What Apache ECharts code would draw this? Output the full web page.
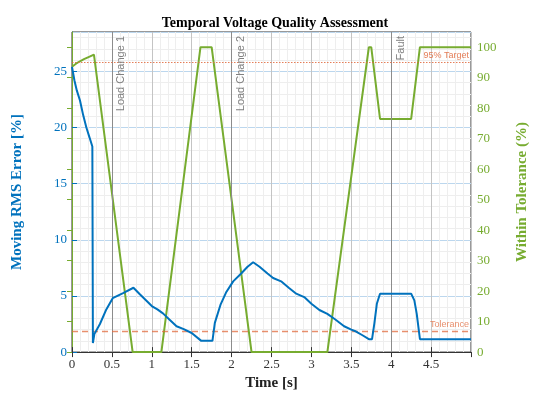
<!DOCTYPE html>
<html>
<head>
<meta charset="utf-8">
<script src="https://cdn.jsdelivr.net/npm/echarts@6/dist/echarts.min.js"></script>
<style>html,body{margin:0;padding:0;background:#fff}#c{width:550px;height:396px}</style>
</head>
<body>
<div id="c"></div>
<script>
// ---- data ----
const rmsTime = [0, 0.03, 0.06, 0.1, 0.14, 0.18, 0.22, 0.255, 0.262, 0.28, 0.35, 0.43, 0.51, 0.64, 0.77, 0.85, 0.93, 1.0, 1.07, 1.14, 1.22, 1.31, 1.4, 1.5, 1.62, 1.76, 1.79, 1.86, 1.93, 2.02, 2.12, 2.2, 2.27, 2.35, 2.45, 2.52, 2.62, 2.72, 2.81, 2.91, 3.0, 3.1, 3.2, 3.3, 3.41, 3.5, 3.56, 3.64, 3.72, 3.76, 3.79, 3.82, 3.86, 4.25, 4.29, 4.32, 4.36, 5.0];
const rmsValue = [25.4, 24.2, 23.3, 22.4, 21.1, 20.0, 19.1, 18.3, 0.8, 1.6, 2.5, 3.8, 4.8, 5.25, 5.73, 5.15, 4.6, 4.1, 3.8, 3.45, 2.9, 2.3, 2.05, 1.7, 1.0, 1.0, 2.6, 4.2, 5.3, 6.3, 7.0, 7.6, 8.0, 7.6, 7.0, 6.6, 6.3, 5.7, 5.2, 4.9, 4.3, 3.75, 3.4, 2.9, 2.3, 2.0, 1.83, 1.5, 1.15, 1.15, 2.6, 4.3, 5.2, 5.2, 4.6, 3.4, 1.15, 1.15];
const tolTime = [0, 0.05, 0.1, 0.15, 0.2, 0.275, 0.76, 1.12, 1.61, 1.75, 2.25, 3.2, 3.72, 3.75, 3.86, 4.25, 4.36, 5.0];
const tolValue = [93.6, 94.6, 95.4, 96.1, 96.7, 97.6, 0, 0, 100, 100, 0, 0, 100, 100, 76.5, 76.5, 100, 100];
const eventTimes = [0.5, 2.0, 4.0];
const eventLabels = ['Load Change 1', 'Load Change 2', 'Fault'];
const rmsTolerance = 1.9;
const targetPct = 95;
const xTicks = [0, 0.5, 1, 1.5, 2, 2.5, 3, 3.5, 4, 4.5];

const BLUE = '#0072BD', GREEN = '#77AC30', ORANGE = '#E0693C';
const SERIF = '"Liberation Serif", "Times New Roman", serif';
const SANS = '"Liberation Sans", Arial, sans-serif';

const rmsData = rmsTime.map((t, i) => [t, rmsValue[i]]);
const tolData = tolTime.map((t, i) => [t, tolValue[i]]);

const chart = echarts.init(document.getElementById('c'));
chart.setOption({
  animation: false,
  title: {
    text: 'Temporal Voltage Quality Assessment',
    left: 'center', top: 11,
    textStyle: { fontFamily: SERIF, fontWeight: 'bold', fontSize: 14, color: '#000' }
  },
  grid: { left: 72, right: 79, top: 32, bottom: 43, show: true, borderColor: '#333', borderWidth: 1 },
  xAxis: [{
    type: 'value', min: 0, max: 5, interval: 0.5,
    name: 'Time [s]', nameLocation: 'middle', nameGap: 21,
    nameTextStyle: { fontFamily: SERIF, fontWeight: 'bold', fontSize: 15, color: '#222' },
    axisLine: { show: true, lineStyle: { color: '#333', width: 1 } },
    axisTick: { show: true, inside: true, length: 5, lineStyle: { color: '#333' } },
    axisLabel: { fontFamily: SERIF, fontSize: 13, color: '#333', margin: 6, showMaxLabel: false,
      formatter: v => xTicks.indexOf(Math.round(v * 10) / 10) >= 0 ? String(v) : '' },
    splitLine: { show: true, lineStyle: { color: '#c4c4c4', width: 1 } },
    minorTick: { show: false, splitNumber: 5 },
    minorSplitLine: { show: true, lineStyle: { color: '#eeeeee', width: 1 } }
  }, {
    type: 'value', min: 0, max: 5, interval: 0.5, position: 'top',
    axisLine: { show: true, lineStyle: { color: '#333', width: 1 } },
    axisTick: { show: true, inside: true, length: 5, lineStyle: { color: '#333' } },
    axisLabel: { show: false }, splitLine: { show: false }
  }],
  yAxis: [{
    type: 'value', min: 0, max: 28.5, interval: 5, position: 'left',
    name: 'Moving RMS Error [%]', nameLocation: 'middle', nameGap: 47, nameRotate: 90,
    nameTextStyle: { fontFamily: SERIF, fontWeight: 'bold', fontSize: 15, color: BLUE },
    axisLine: { show: true, lineStyle: { color: BLUE, width: 1 } },
    axisTick: { show: true, inside: true, length: 5, lineStyle: { color: BLUE } },
    axisLabel: { fontFamily: SERIF, fontSize: 13, color: BLUE, margin: 5, showMaxLabel: false },
    splitLine: { show: true, lineStyle: { color: '#bcd7ee', width: 1 } },
    minorTick: { show: false, splitNumber: 5 },
    minorSplitLine: { show: true, lineStyle: { color: '#eeeeee', width: 1 } }
  }, {
    type: 'value', min: 0, max: 105, interval: 10, position: 'right',
    name: 'Within Tolerance (%)', nameLocation: 'middle', nameGap: 44, nameRotate: 90,
    nameTextStyle: { fontFamily: SERIF, fontWeight: 'bold', fontSize: 15, color: GREEN },
    axisLine: { show: true, lineStyle: { color: GREEN, width: 1 } },
    axisTick: { show: true, inside: true, length: 5, lineStyle: { color: GREEN } },
    axisLabel: { fontFamily: SERIF, fontSize: 13, color: GREEN, margin: 6, showMaxLabel: false },
    splitLine: { show: false }
  }],
  series: [{
    name: 'Moving RMS Error', type: 'line', xAxisIndex: 0, yAxisIndex: 0,
    data: rmsData, showSymbol: false, symbol: 'none', z: 5,
    lineStyle: { color: BLUE, width: 2 },
    markLine: {
      silent: true, symbol: 'none', animation: false,
      data: [
        ...eventTimes.map((t, i) => ({
          xAxis: t,
          lineStyle: { color: '#8c8c8c', width: 1, type: 'solid' },
          label: { show: true, formatter: eventLabels[i], position: 'insideEndBottom',
            fontFamily: SANS, fontSize: 11, color: '#808080', distance: 4 }
        })),
        {
          yAxis: rmsTolerance,
          lineStyle: { color: ORANGE, width: 1.3, type: [6, 4], opacity: 0.75 },
          label: { show: true, formatter: 'Tolerance', position: 'insideEndTop',
            fontFamily: SANS, fontSize: 9, color: ORANGE, distance: 2 }
        }
      ]
    }
  }, {
    name: 'Within Tolerance', type: 'line', xAxisIndex: 0, yAxisIndex: 1,
    data: tolData, showSymbol: false, symbol: 'none', z: 4,
    lineStyle: { color: GREEN, width: 2 },
    markLine: {
      silent: true, symbol: 'none', animation: false,
      data: [{
        yAxis: targetPct,
        lineStyle: { color: ORANGE, width: 1, type: [1.5, 1.5], opacity: 0.85 },
        label: { show: true, formatter: '95% Target', position: 'insideEndTop',
          fontFamily: SANS, fontSize: 9, color: ORANGE, distance: 2 }
      }]
    }
  }]
});
</script>
</body>
</html>
